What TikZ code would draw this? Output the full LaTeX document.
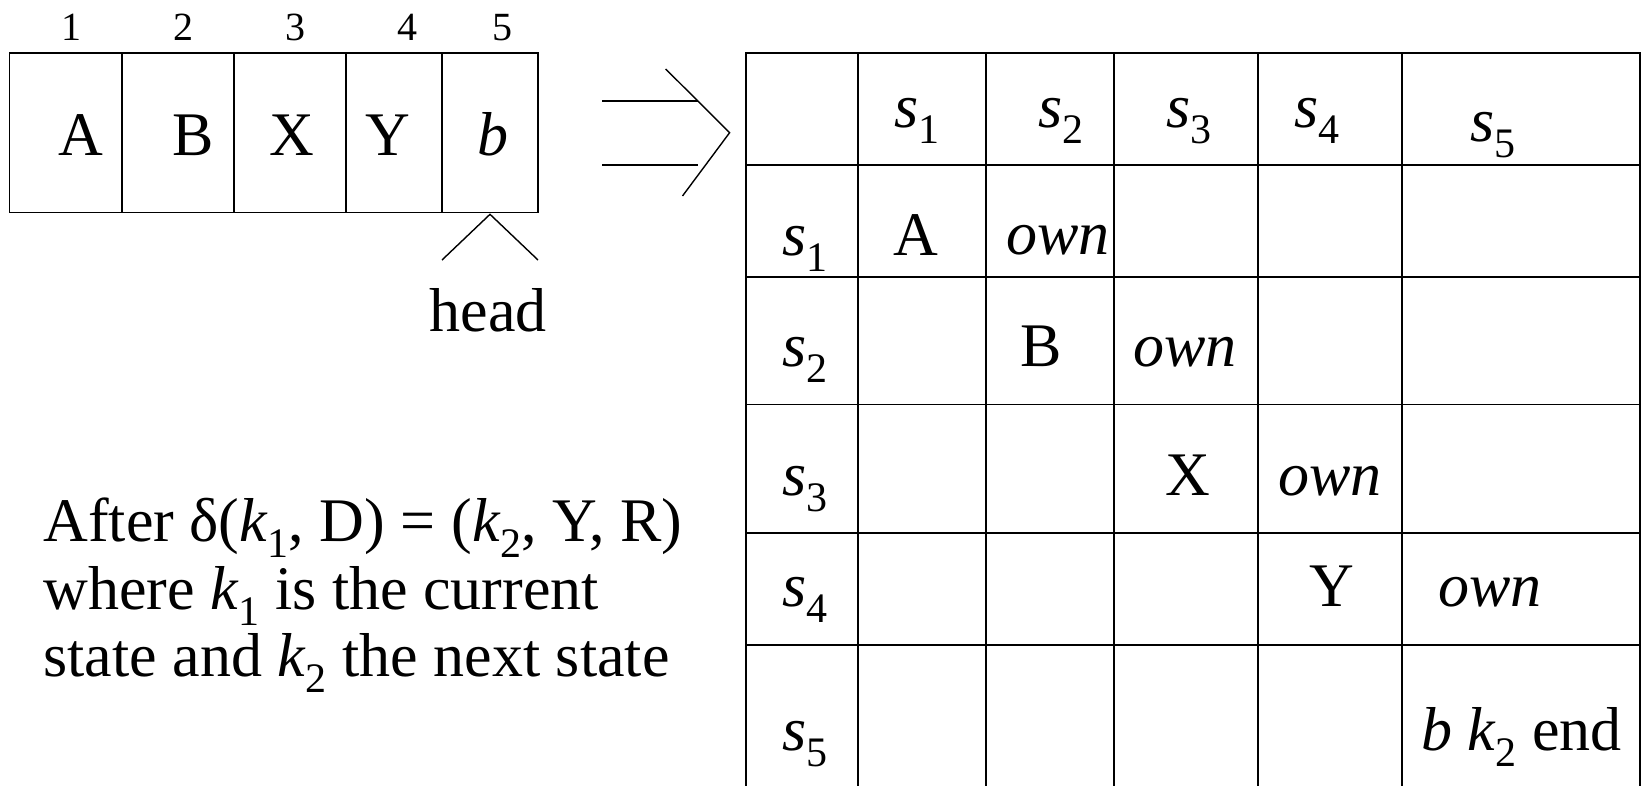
\documentclass[tikz,border=0pt]{standalone}
\usepackage{fontspec}
\setmainfont{Liberation Serif}
\newcommand\txtf{\fontsize{62}{62}\selectfont}
\newcommand\numf{\fontsize{40}{40}\selectfont}
\newcommand\sbx[1]{\raisebox{-16pt}[0pt][0pt]{\fontsize{42}{42}\selectfont #1}}
\newcommand\sv[1]{\textit{s}\sbx{#1}}
\tikzset{
  x=1pt, y=-1pt,
  grid/.style={line width=1.6pt, line cap=rect},
  thin/.style={line width=1.4pt},
  lbl/.style={inner sep=0pt, outer sep=0pt, font=\txtf},
  num/.style={inner sep=0pt, outer sep=0pt, font=\numf, anchor=base},
}
\begin{document}
\begin{tikzpicture}
\useasboundingbox (0,0) rectangle (1642,785);
% tape
\draw[grid] (9.6,52.7) rectangle (538,212.3);
\foreach \xx in {121.8,234,346,442}{\draw[grid] (\xx,52.7) -- (\xx,212.3);}
\node[num] (n1) at (71.4,40.7) {1};
\node[num] (n2) at (183,40.7) {2};
\node[num] (n3) at (295,40.7) {3};
\node[num] (n4) at (407,40.7) {4};
\node[num] (n5) at (502,40.7) {5};
\node[lbl,anchor=base] (tA) at (81,155.7) {A};
\node[lbl,anchor=base] (tB) at (193,155.7) {B};
\node[lbl,anchor=base] (tX) at (292,155.7) {X};
\node[lbl,anchor=base] (tY) at (388,155.7) {Y};
\node[lbl,anchor=base] (tb) at (493,155.7) {\textit{b}};
% head
\coordinate (hl) at (442,260);
\coordinate (ha) at (490,214.3);
\coordinate (hr) at (538,260);
\draw[thin] (hl) -- (ha) -- (hr);
\node[lbl,anchor=base] (head) at (488,331) {head};
% implies arrow
\coordinate (a1) at (602,101);
\coordinate (a1e) at (697.5,101);
\coordinate (a2) at (602,165);
\coordinate (a2e) at (697.5,165);
\coordinate (ct) at (665.7,69);
\coordinate (ca) at (729.6,132.7);
\coordinate (cb) at (682.5,196);
\draw[thin] (a1) -- (a1e);
\draw[thin] (a2) -- (a2e);
\draw[thin] (ct) -- (ca) -- (cb);
% table
\foreach \xx in {745.7,858,986,1114,1258,1402,1640}{\draw[grid] (\xx,53) -- (\xx,790);}
\foreach \yy in {53,165,277,404.5,533,645}{\draw[grid] (745.7,\yy) -- (1640,\yy);}
% header
\node[lbl,anchor=base west] (h1) at (894,127) {\sv{1}};
\node[lbl,anchor=base west] (h2) at (1038,127) {\sv{2}};
\node[lbl,anchor=base west] (h3) at (1166,127) {\sv{3}};
\node[lbl,anchor=base west] (h4) at (1294,127) {\sv{4}};
\node[lbl,anchor=base west] (h5) at (1470,141.7) {\sv{5}};
% row labels
\node[lbl,anchor=base west] (r1) at (782,255) {\sv{1}};
\node[lbl,anchor=base west] (r2) at (782,366.7) {\sv{2}};
\node[lbl,anchor=base west] (r3) at (782,495) {\sv{3}};
\node[lbl,anchor=base west] (r4) at (782,606.7) {\sv{4}};
\node[lbl,anchor=base west] (r5) at (782,750) {\sv{5}};
% contents
\node[lbl,anchor=base] (cA) at (916,255) {A};
\node[lbl,anchor=base west] (o1) at (1006,254) {\textit{own}};
\node[lbl,anchor=base] (cB) at (1041,366.7) {B};
\node[lbl,anchor=base west] (o2) at (1133,366.7) {\textit{own}};
\node[lbl,anchor=base] (cX) at (1187.6,495) {X};
\node[lbl,anchor=base west] (o3) at (1278,495) {\textit{own}};
\node[lbl,anchor=base] (cY) at (1332,606.7) {Y};
\node[lbl,anchor=base west] (o4) at (1438,606.7) {\textit{own}};
\node[lbl,anchor=base west] (cend) at (1421,750) {\textit{b} \textit{k}\sbx{2} end};
% explanation
\node[lbl,anchor=base west] (e1) at (43.4,541) {After δ(\textit{k}\sbx{1}, D) = (\textit{k}\sbx{2}, Y, R)};
\node[lbl,anchor=base west] (e2) at (43.4,609) {where \textit{k}\sbx{1} is the current};
\node[lbl,anchor=base west] (e3) at (43.4,676) {state and \textit{k}\sbx{2} the next state};
\end{tikzpicture}
\end{document}
